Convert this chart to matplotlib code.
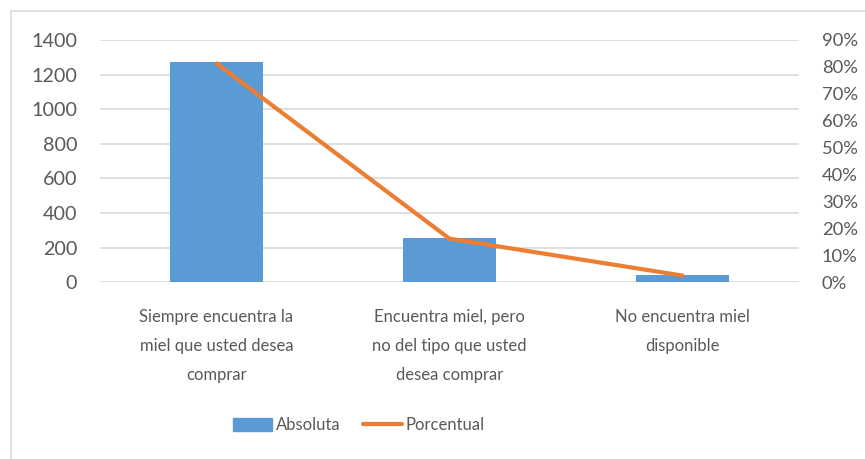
import matplotlib.pyplot as plt
from matplotlib.patches import Rectangle
from matplotlib.lines import Line2D
from matplotlib.ticker import FuncFormatter

# respuestas sobre la disponibilidad de miel
categorias = ["Siempre encuentra la\nmiel que usted desea\ncomprar",
              "Encuentra miel, pero\nno del tipo que usted\ndesea comprar",
              "No encuentra miel\ndisponible"]
absoluta = [1275, 254, 40]
porcentual = [0.813, 0.162, 0.025]

azul = "#5B9BD5"
naranja = "#ED7D31"
gris_txt = "#595959"
gris_grid = "#D9D9D9"

plt.rcParams['font.family'] = ['Lato', 'DejaVu Sans']

fig = plt.figure(figsize=(8.65, 4.59), dpi=100)
# marco del grafico
fig.patches.append(Rectangle((11 / 865, -0.1), 1.2, 1 - 11 / 459 + 0.1,
                             transform=fig.transFigure, fill=False,
                             edgecolor="#D9D9D9", linewidth=1.2))

ax = fig.add_axes([100 / 865, 1 - 282.3 / 459, 699 / 865, 242.3 / 459])
x = range(len(categorias))
ax.bar(x, absoluta, width=0.4, color=azul, zorder=2)
ax.set_xlim(-0.5, 2.5)
ax.set_ylim(0, 1400)
ax.set_yticks(range(0, 1401, 200))
ax.grid(axis="y", color=gris_grid, linewidth=1.2, zorder=0)
ax.set_xticks(list(x))
ax.set_xticklabels(categorias, fontsize=12, color=gris_txt, linespacing=2.0)
ax.tick_params(axis="x", length=0, pad=19.5)
ax.tick_params(axis="y", length=0, pad=16.5, labelsize=14.2, labelcolor=gris_txt)
for s in ax.spines.values():
    s.set_visible(False)

ax2 = ax.twinx()
ax2.plot(list(x), porcentual, color=naranja, linewidth=3.0,
         solid_capstyle="round", zorder=3)
ax2.set_ylim(0, 0.9)
ax2.set_yticks([i / 10 for i in range(10)])
ax2.yaxis.set_major_formatter(FuncFormatter(lambda v, p: f"{round(v * 100)}%"))
ax2.tick_params(axis="y", length=0, pad=16.5, labelsize=13.2, labelcolor=gris_txt)
for s in ax2.spines.values():
    s.set_visible(False)

handles = [Rectangle((0, 0), 1, 1, color=azul),
           Line2D([0], [0], color=naranja, linewidth=3.0, solid_capstyle="round")]
fig.legend(handles, ["Absoluta", "Porcentual"], loc="center",
           bbox_to_anchor=(359 / 865, 1 - 425 / 459), ncol=2, frameon=False,
           fontsize=12, labelcolor=gris_txt, handlelength=2.35,
           handleheight=0.85, handletextpad=0.25, columnspacing=1.3)

fig.savefig("out.png", dpi=100)
